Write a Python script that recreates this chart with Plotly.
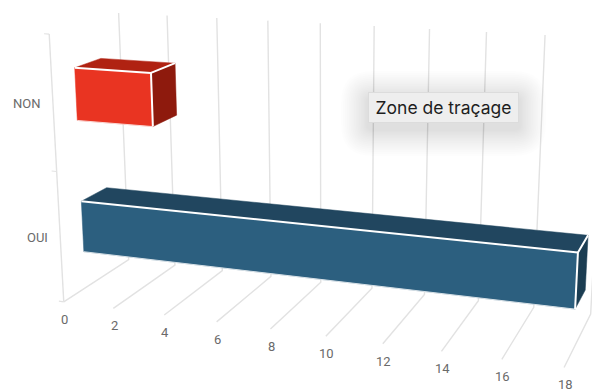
import numpy as np
import plotly.graph_objects as go

# Chart data
categories = ["OUI", "NON"]
values = [18, 3]
value_ticks = [0, 2, 4, 6, 8, 10, 12, 14, 16, 18]
tooltip_text = "Zone de traçage"

# Vertical and depth extents of each bar in the unit chart box
bar_heights = {"OUI": (0.144, 0.343), "NON": (0.653, 0.850)}
bar_depth = (0.318, 0.700)
category_levels = {"OUI": 0.25, "NON": 0.75}

# Face colours: front, top, side
bar_colors = {
    "OUI": ("#2c5f7f", "#21465f", "#1b3d52"),
    "NON": ("#e93422", "#b02212", "#8e1a0d"),
}
GRID = "#e2e2e2"
LABEL = "#6a6a6a"
WIDTH, HEIGHT = 592, 390

# Perspective camera for the 3D chart box
EYE = np.array([1.1443, -3.2146, 0.9148])
TARGET = np.array([0.6804, -1.9887, 0.5442])
UP = np.array([-0.148, 0.4122, 1.0])
BOX = (1.3562, 0.3678, 0.7)
VALUE_SPAN = (-0.4, 18.4)
FOCAL = 1418.54

_f = (TARGET - EYE) / np.linalg.norm(TARGET - EYE)
_s = np.cross(_f, UP)
_s = _s / np.linalg.norm(_s)
_u = np.cross(_s, _f)


def project(value, depth, level):
    """Map (value, depth, level) in chart space to the flat plotting plane."""
    p = np.array([
        BOX[0] * ((value - VALUE_SPAN[0]) / (VALUE_SPAN[1] - VALUE_SPAN[0]) - 0.5),
        BOX[1] * (depth - 0.5),
        BOX[2] * (level - 0.5),
    ])
    r = p - EYE
    z = r @ _f
    return WIDTH / 2 + FOCAL * (r @ _s) / z, HEIGHT / 2 - FOCAL * (r @ _u) / z


def path3d(points):
    xy = [project(*p) for p in points]
    return [a for a, _ in xy], [b for _, b in xy]


fig = go.Figure()


def add_line(points, color, width):
    xs, ys = path3d(points)
    fig.add_trace(go.Scatter(x=xs, y=ys, mode="lines", hoverinfo="skip",
                             line=dict(color=color, width=width)))


def add_face(points, color):
    xs, ys = path3d(points + points[:1])
    fig.add_trace(go.Scatter(x=xs, y=ys, mode="lines", fill="toself", fillcolor=color,
                             hoverinfo="skip", line=dict(color=color, width=0.5)))


# Floor and back-wall gridlines
for v in value_ticks:
    add_line([(v, 0, 0), (v, 1, 0), (v, 1, 1)], GRID, 1.4)

# Category axis at the front-left edge, with its small ticks
add_line([(0, 0, 0), (0, 0, 1)], GRID, 1.4)
for lvl in (0, 0.5, 1):
    add_line([(-0.2, 0, lvl), (0, 0, lvl)], GRID, 1.2)

# Bars
d0, d1 = bar_depth
for cat, val in zip(categories, values):
    h0, h1 = bar_heights[cat]
    front, top, side = bar_colors[cat]
    add_face([(0, d0, h1), (val, d0, h1), (val, d1, h1), (0, d1, h1)], top)
    add_face([(val, d0, h0), (val, d1, h0), (val, d1, h1), (val, d0, h1)], side)
    add_face([(0, d0, h0), (val, d0, h0), (val, d0, h1), (0, d0, h1)], front)
    add_line([(0, d0, h0), (val, d0, h0)], "rgba(255,255,255,0.75)", 1)
    add_line([(0, d0, h1), (val, d0, h1)], "white", 2)
    add_line([(val, d0, h0), (val, d0, h1), (val, d1, h1)], "white", 2)

annotations = []
for v in value_ticks:
    x, y = project(v, 0, 0)
    annotations.append(dict(x=x, y=y, text=str(v), showarrow=False, xshift=1, yshift=-17.5,
                            font=dict(family="Roboto", size=13, color=LABEL)))
for cat in categories:
    x, y = project(0, 0, category_levels[cat])
    annotations.append(dict(x=x, y=y, text=cat, showarrow=False, xanchor="right",
                            xshift=-10, yshift=0,
                            font=dict(family="Roboto", size=13, color=LABEL)))

# Tooltip box with a soft drop shadow built from stacked translucent rounded rectangles
TIP = (369, 93, 518, 122)


def rounded(x0, y0, x1, y1, r):
    return (f"M{x0 + r},{y0} L{x1 - r},{y0} Q{x1},{y0} {x1},{y0 + r} L{x1},{y1 - r} "
            f"Q{x1},{y1} {x1 - r},{y1} L{x0 + r},{y1} Q{x0},{y1} {x0},{y1 - r} "
            f"L{x0},{y0 + r} Q{x0},{y0} {x0 + r},{y0} Z")


shapes = []
for n in range(16):
    grow = 2 + 26 * ((n + 1) / 16) ** 1.2
    shapes.append(dict(type="path", xref="x", yref="y", line=dict(width=0),
                       fillcolor="rgba(0,0,0,0.0075)",
                       path=rounded(TIP[0] - grow, TIP[1] + 6 - grow, TIP[2] + grow,
                                    TIP[3] + 6 + grow, grow + 3)))

annotations.append(dict(x=(TIP[0] + TIP[2]) / 2, y=(TIP[1] + TIP[3]) / 2, text=tooltip_text,
                        showarrow=False, width=TIP[2] - TIP[0], height=TIP[3] - TIP[1],
                        bgcolor="#eeeeee", bordercolor="#dcdcdc", borderwidth=1, borderpad=0,
                        font=dict(family="Inter", size=17.5, color="#1e1e1e")))

fig.update_layout(
    width=WIDTH, height=HEIGHT, margin=dict(l=0, r=0, t=0, b=0),
    paper_bgcolor="white", plot_bgcolor="white", showlegend=False,
    xaxis=dict(range=[0, WIDTH], visible=False, fixedrange=True),
    yaxis=dict(range=[HEIGHT, 0], visible=False, fixedrange=True),
    shapes=shapes, annotations=annotations,
)
fig.write_html("out.html", config=dict(displayModeBar=False))
